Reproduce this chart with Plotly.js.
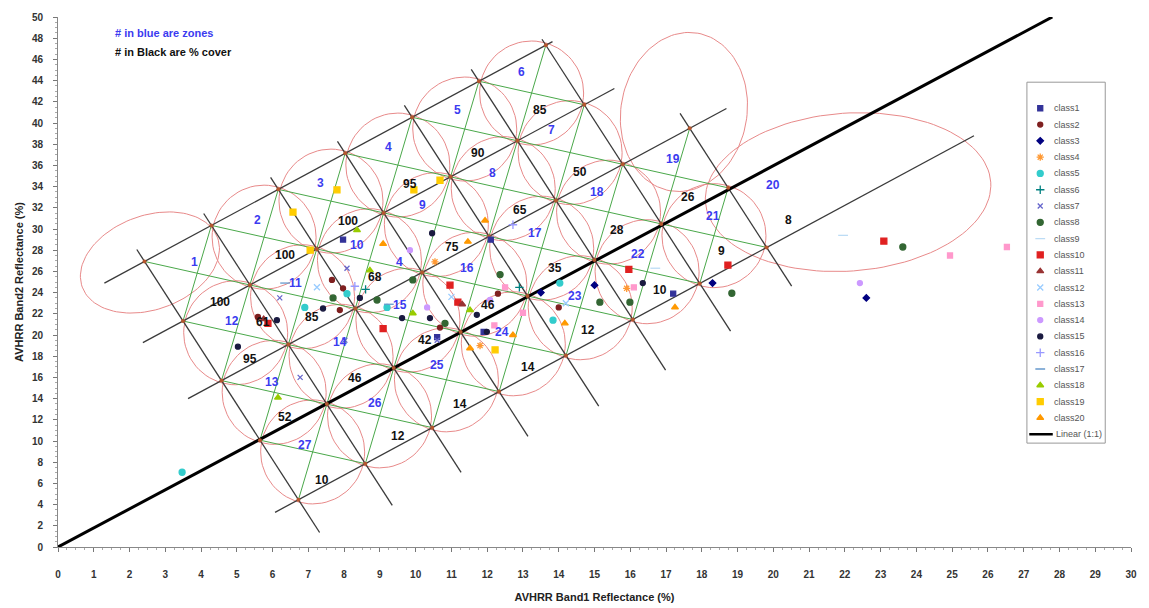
<!DOCTYPE html>
<html><head><meta charset="utf-8">
<script src="https://cdn.plot.ly/plotly-3.0.1.min.js"></script>
<style>body{margin:0;background:#fff}</style>
</head><body><div id="chart" style="width:1149px;height:608px"></div>
<script>
// ---------------- DATA ----------------
const classNames = ['class1','class2','class3','class4','class5','class6','class7','class8','class9','class10',
  'class11','class12','class13','class14','class15','class16','class17','class18','class19','class20'];
const class1X=[7.97,17.2,11.9,10.6,12.1], class1Y=[29.0,23.9,20.3,19.8,29.0];
const class2X=[7.66,7.97,7.88,5.59,12.3,14.0,10.68], class2Y=[25.2,24.4,22.35,21.7,23.9,22.6,20.7];
const class3X=[15.0,18.3,13.5,22.6], class3Y=[24.7,24.9,24.0,23.5];
const class4X=[10.54,11.8,15.9], class4Y=[26.9,19.0,24.4];
const class5X=[3.47,8.08,6.9,14.03,13.84,9.2], class5Y=[7.05,23.9,22.6,24.9,21.4,22.6];
const class6X=[8.6,12.9], class6Y=[24.3,24.5];
const class7X=[8.08,6.2,6.77,8.02,10.6], class7Y=[26.3,23.5,16.0,19.5,19.5];
const class8X=[23.62,18.84,7.69,8.92,9.92,12.36,10.82,15.15,15.99], class8Y=[28.3,23.94,23.5,23.3,25.2,25.7,21.1,23.1,23.1];
const class9X=[21.95,16.7], class9Y=[29.4,26.3];
const class10X=[23.09,18.73,15.96,10.96,11.18,5.87,9.09], class10Y=[28.86,26.6,26.2,24.7,23.1,21.1,20.6];
const class11X=[5.75,11.3], class11Y=[21.5,22.9];
const class12X=[7.24,11.0,14.2], class12Y=[24.5,23.6,23.0];
const class13X=[24.94,16.1,12.5,13.0,12.2,26.53], class13Y=[27.5,24.5,24.5,22.1,20.9,28.3];
const class14X=[9.84,12.08,10.32,22.42], class14Y=[28.0,23.3,22.6,24.9];
const class15X=[8.44,7.41,6.12,10.46,11.71,9.62,10.4,11.99,5.03,16.35], class15Y=[23.5,22.5,21.4,29.6,21.9,21.6,21.6,20.3,18.9,24.9];
const class16X=[12.72,8.3], class16Y=[30.4,24.6];
const class17X=[6.35,9.25], class17Y=[24.9,22.9];
const class18X=[6.15,9.92,11.52,8.72,8.36], class18Y=[14.1,22.05,22.35,26.1,29.9];
const class19X=[7.8,6.57,7.05,12.22,10.68,9.95], class19Y=[33.7,31.6,28.0,18.6,34.6,33.7];
const class20X=[11.94,11.46,14.17,12.72,11.52,17.25,9.09], class20Y=[30.8,28.8,21.1,20.0,18.75,22.6,28.6];

const lineName = 'Linear (1:1)';
const lineX = [0, 27.8], lineY = [0, 50];

// zone numbers (blue)
const zoneText = ['1','2','3','4','5','6','7','8','9','10','11','12','13','14','15','16','17','18','19','20','21','22','23','24','25','26','27','4'];
const zoneX = [3.83,5.59,7.33,9.23,11.16,12.97,13.81,12.16,10.18,8.36,6.63,4.86,5.98,7.88,9.56,11.43,13.34,15.07,17.19,19.99,18.31,16.22,14.45,12.41,10.6,8.86,6.91,9.56];
const zoneY = [26.86,30.83,34.33,37.73,41.22,44.81,39.33,35.27,32.25,28.47,24.9,21.3,15.55,19.33,22.83,26.32,29.62,33.5,36.62,34.16,31.23,27.64,23.67,20.28,17.16,13.57,9.61,26.86];

// % cover (black)
const coverText = ['100','100','100','95','90','85','50','65','75','68','35','28','26','8','9','10','12','14','14','12','10','52','46','95','85','61','42','46'];
const coverX = [6.35,8.11,4.53,9.84,11.74,13.48,14.59,12.92,11.02,8.86,13.9,15.63,17.61,20.41,18.56,16.83,14.82,13.14,11.24,9.51,7.38,6.35,8.3,5.37,7.1,5.73,10.26,12.02];
const coverY = [27.54,30.75,23.07,34.25,37.18,41.23,35.38,31.78,28.3,25.47,26.32,29.9,33.0,30.83,27.92,24.24,20.46,16.97,13.48,10.45,6.3,12.25,15.93,17.72,21.69,21.22,19.52,22.83];

// zone grid construction (data units)
const gridOrigin = [5.647, 10.08];
const stepAlong = [1.870, 3.40];
const stepAcross = [1.076, -5.62];
const rowIndex = [3, 2, 1, -1];
const rowStart = [-0.6, -0.6, -0.5, -0.35];
const rowEnd = [6.1, 6.45, 7.55, 10.1];
const colIndex = [0, 1, 2, 3, 4, 5, 6, 7];
const colTop = [3.2, 3.2, 3.2, 3.2, 3.2, 3.2, 3.1, 1.25];
const colBottom = [-1.55, -1.7, -1.75, -1.75, -1.85, -1.85, -1.8, -1.65];
const bandTop = [3, 2, 1, 0];
const bandGreenFrom = [0, 0, 0, 0], bandGreenTo = [5, 5, 6, 6];
const bandCircleFrom = [1, 0, 0, 0], bandCircleTo = [5, 5, 5, 6];
const nodeRows = [3, 2, 1, 0, -1], nodeTo = [6, 6, 7, 7, 7];
// large ellipses: centre (data), semi-axes in px, angle deg
const ellCX = [2.57, 17.50, 22.09], ellCY = [26.84, 41.04, 33.48];
const ellA = [72, 80, 143], ellB = [47, 63, 79], ellAng = [20, 80, 4];

// ---------------- STYLE ----------------
const classColors = ['#333399','#7f2020','#000080','#ff9933','#33cccc','#008080','#6666cc','#336633','#bcdcf5','#e02020',
  '#993333','#99ccff','#ff99cc','#cc99ff','#1a1a40','#9999ff','#6699cc','#99cc00','#ffcc00','#ff9900'];
const classSymbols = ['square','circle','diamond','asterisk-open','circle','cross-thin-open','x-thin-open','circle','line-ew-open','square',
  'triangle-up','x-thin-open','square','circle','circle','cross-thin-open','line-ew-open','triangle-up','square','triangle-up'];
const classSizes = [5,5,5,6,6,6,5,6,7,6,6,6,5,5,5,6,7,6,6,6];

const W = 1149, H = 608, ML = 58, MR = 18, MT = 17, MB = 61;
const pxX = (W - ML - MR) / 30, pxY = (H - MT - MB) / 50;
const FONT = 'Liberation Sans, Arial, sans-serif';

function node(i, r) {
  return [gridOrigin[0] + i * stepAlong[0] - r * stepAcross[0],
          gridOrigin[1] + i * stepAlong[1] - r * stepAcross[1]];
}
function pushSeg(xs, ys, p, q) { xs.push(p[0], q[0], null); ys.push(p[1], q[1], null); }

// black lattice
const bx = [], by = [];
rowIndex.forEach((r, k) => pushSeg(bx, by, node(rowStart[k], r), node(rowEnd[k], r)));
colIndex.forEach((i, k) => pushSeg(bx, by, node(i, colTop[k]), node(i, colBottom[k])));
// green diagonals
const gx = [], gy = [];
bandTop.forEach((r, k) => {
  for (let i = bandGreenFrom[k]; i <= bandGreenTo[k]; i++) {
    pushSeg(gx, gy, node(i, r), node(i + 1, r - 1));
    pushSeg(gx, gy, node(i + 1, r), node(i, r - 1));
  }
});
// red circles around cells
const cx = [], cy = [];
const R = 52;
bandTop.forEach((r, k) => {
  for (let i = bandCircleFrom[k]; i <= bandCircleTo[k]; i++) {
    const c = node(i + 0.5, r - 0.5);
    for (let t = 0; t <= 72; t++) {
      const a = t / 72 * 2 * Math.PI;
      cx.push(c[0] + R * Math.cos(a) / pxX); cy.push(c[1] + R * Math.sin(a) / pxY);
    }
    cx.push(null); cy.push(null);
  }
});
ellCX.forEach((x0, k) => {
  const th = ellAng[k] * Math.PI / 180;
  for (let t = 0; t <= 120; t++) {
    const a = t / 120 * 2 * Math.PI;
    const u = ellA[k] * Math.cos(a), v = ellB[k] * Math.sin(a);
    cx.push(x0 + (u * Math.cos(th) - v * Math.sin(th)) / pxX);
    cy.push(ellCY[k] + (u * Math.sin(th) + v * Math.cos(th)) / pxY);
  }
  cx.push(null); cy.push(null);
});
// nodes
const nx = [], ny = [];
nodeRows.forEach((r, k) => { for (let i = 0; i <= nodeTo[k]; i++) { const p = node(i, r); nx.push(p[0]); ny.push(p[1]); } });

const classX = [class1X,class2X,class3X,class4X,class5X,class6X,class7X,class8X,class9X,class10X,class11X,class12X,class13X,class14X,class15X,class16X,class17X,class18X,class19X,class20X];
const classY = [class1Y,class2Y,class3Y,class4Y,class5Y,class6Y,class7Y,class8Y,class9Y,class10Y,class11Y,class12Y,class13Y,class14Y,class15Y,class16Y,class17Y,class18Y,class19Y,class20Y];

const traces = [
  {x: cx, y: cy, mode: 'lines', line: {color: '#e88a8a', width: 1}, hoverinfo: 'skip'},
  {x: gx, y: gy, mode: 'lines', line: {color: '#4aa84a', width: 1}, hoverinfo: 'skip'},
  {x: bx, y: by, mode: 'lines', line: {color: '#3a3a3a', width: 1.3}, hoverinfo: 'skip'},
  {x: lineX, y: lineY, mode: 'lines', name: lineName, line: {color: '#000', width: 3}},
  {x: nx, y: ny, mode: 'markers', marker: {color: '#b4562e', size: 4}, hoverinfo: 'skip'}
];
classNames.forEach((n, k) => {
  traces.push({x: classX[k], y: classY[k], mode: 'markers', name: n,
    marker: {color: classColors[k], symbol: classSymbols[k], size: classSizes[k], line: {color: classColors[k], width: 1.3}}});
});
// manual legend (own small axes)
const annotations = [];
classNames.forEach((n, k) => {
  traces.push({x: [0.17], y: [k + 1], xaxis: 'x2', yaxis: 'y2', mode: 'markers', hoverinfo: 'skip',
    marker: {color: classColors[k], symbol: classSymbols[k], size: classSizes[k], line: {color: classColors[k], width: 1.3}}});
  annotations.push({xref: 'x2', yref: 'y2', x: 0.32, y: k + 1, text: n, showarrow: false, xanchor: 'left', yanchor: 'middle',
    font: {family: FONT, size: 9, color: '#555'}});
});
traces.push({x: [0.03, 0.33], y: [21, 21], xaxis: 'x2', yaxis: 'y2', mode: 'lines', line: {color: '#000', width: 2.5}, hoverinfo: 'skip'});
annotations.push({xref: 'x2', yref: 'y2', x: 0.34, y: 21, text: lineName, showarrow: false, xanchor: 'left', yanchor: 'middle',
  font: {family: FONT, size: 9, color: '#555'}});

zoneText.forEach((t, k) => annotations.push({x: zoneX[k], y: zoneY[k], text: t, showarrow: false,
  font: {family: FONT, size: 12, color: '#3b3bf0', weight: 'bold'}}));
coverText.forEach((t, k) => annotations.push({x: coverX[k], y: coverY[k], text: t, showarrow: false,
  font: {family: FONT, size: 12, color: '#111', weight: 'bold'}}));
annotations.push({x: 1.54, y: 48.5, text: '# in blue are zones', showarrow: false, xanchor: 'left',
  font: {family: FONT, size: 11, color: '#3b3bf0', weight: 'bold'}});
annotations.push({x: 1.54, y: 46.7, text: '# in Black are % cover', showarrow: false, xanchor: 'left',
  font: {family: FONT, size: 11, color: '#111', weight: 'bold'}});

const tickFont = {family: FONT, size: 10, color: '#333', weight: 'bold'};
const layout = {
  width: W, height: H, margin: {l: ML, r: MR, t: MT, b: MB, pad: 0},
  paper_bgcolor: '#fff', plot_bgcolor: '#fff', showlegend: false,
  font: {family: FONT},
  xaxis: {range: [0, 30], dtick: 1, tick0: 0, ticks: 'outside', ticklen: 4, tickcolor: '#777',
    showline: true, linecolor: '#888', linewidth: 1, showgrid: false, zeroline: false,
    tickfont: tickFont, ticklabelstandoff: 14,
    minor: {ticks: 'outside', ticklen: 2, dtick: 0.25, tickcolor: '#aaa'},
    title: {text: 'AVHRR Band1 Reflectance (%)', font: {family: FONT, size: 11, color: '#222', weight: 'bold'}, standoff: 14}},
  yaxis: {range: [0, 50], dtick: 2, tick0: 0, ticks: 'outside', ticklen: 4, tickcolor: '#777',
    showline: true, linecolor: '#888', linewidth: 1, showgrid: false, zeroline: false,
    tickfont: tickFont, ticklabelstandoff: 8,
    minor: {ticks: 'outside', ticklen: 2, dtick: 0.5, tickcolor: '#aaa'},
    title: {text: 'AVHRR Band2 Reflectance (%)', font: {family: FONT, size: 11, color: '#222', weight: 'bold'}, standoff: 6}},
  xaxis2: {domain: [0.903, 0.976], range: [0, 1], visible: false, anchor: 'y2', fixedrange: true},
  yaxis2: {domain: [0.196, 0.877], range: [21.55, -0.6], visible: false, anchor: 'x2', fixedrange: true},
  shapes: [{type: 'rect', xref: 'paper', yref: 'paper', x0: 0.903, x1: 0.976, y0: 0.196, y1: 0.877,
    line: {color: '#999', width: 1}, fillcolor: 'rgba(255,255,255,0)', layer: 'above'}],
  annotations: annotations
};
Plotly.newPlot('chart', traces, layout, {displayModeBar: false, staticPlot: true});
</script></body></html>
